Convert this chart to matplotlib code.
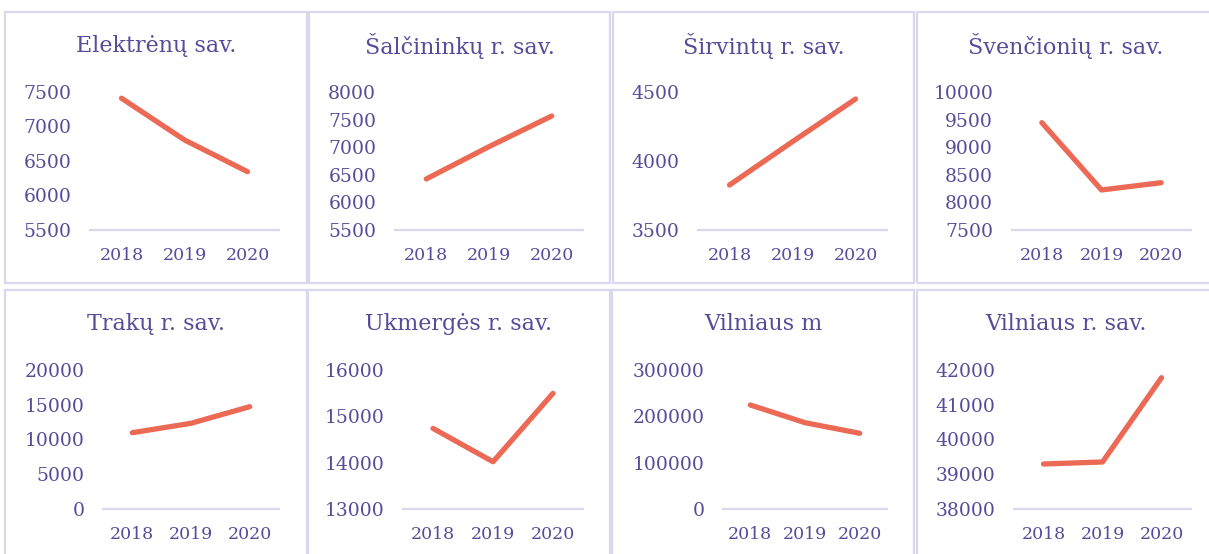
import matplotlib
matplotlib.use("Agg")
import matplotlib.pyplot as plt
from matplotlib.patches import Rectangle

years = ["2018", "2019", "2020"]

titles = ["Elektrėnų sav.", "Šalčininkų r. sav.", "Širvintų r. sav.", "Švenčionių r. sav.",
          "Trakų r. sav.", "Ukmergės r. sav.", "Vilniaus m", "Vilniaus r. sav."]

elektrenai = [7410, 6805, 6345]
salcininkai = [6425, 7010, 7565]
sirvintai = [3826, 4140, 4449]
svencionys = [9445, 8225, 8357]
trakai = [10980, 12330, 14720]
ukmerge = [14740, 14020, 15497]
vilnius_m = [224500, 186300, 163400]
vilnius_r = [39295, 39353, 41778]

series = [elektrenai, salcininkai, sirvintai, svencionys,
          trakai, ukmerge, vilnius_m, vilnius_r]

y_ticks = [
    [5500, 6000, 6500, 7000, 7500],
    [5500, 6000, 6500, 7000, 7500, 8000],
    [3500, 4000, 4500],
    [7500, 8000, 8500, 9000, 9500, 10000],
    [0, 5000, 10000, 15000, 20000],
    [13000, 14000, 15000, 16000],
    [0, 100000, 200000, 300000],
    [38000, 39000, 40000, 41000, 42000],
]

W, H = 1209, 554
TEXT = "#574b9a"
LINE = "#ec6a55"
BORDER = "#dad8ec"

fig = plt.figure(figsize=(W / 100, H / 100), dpi=100)
plt.rcParams['font.family'] = ['DejaVu Serif']

def fx(x):
    return x / W

def fy(y):
    return 1 - y / H

# panel boxes (pixel coordinates: left, right, top, bottom)
panels = [
    (5, 307, 12, 283), (309, 610, 12, 283), (613, 914, 12, 283), (917, 1215, 12, 283),
    (5, 307, 290, 570), (308, 610, 290, 570), (612, 914, 290, 570), (917, 1215, 290, 570),
]
# axes areas (left, right, top, bottom)
axes_px = [
    (90, 279, 92, 230), (395, 583, 92, 230), (698, 887, 92, 230), (1012, 1191, 92, 230),
    (103, 279, 370, 509), (403, 583, 370, 509), (723, 887, 370, 509), (1014, 1191, 370, 509),
]
title_y = [46, 46, 46, 46, 324, 324, 324, 324]

for (l, r, t, b) in panels:
    fig.patches.append(Rectangle((fx(l), fy(b)), fx(r - l), (b - t) / H,
                                 transform=fig.transFigure, fill=False,
                                 edgecolor=BORDER, linewidth=1.6))

for i in range(8):
    l, r, t, b = axes_px[i]
    ax = fig.add_axes([fx(l), fy(b), fx(r - l), (b - t) / H])
    ax.plot(range(3), series[i], color=LINE, linewidth=3.8,
            solid_capstyle='round', solid_joinstyle='round', clip_on=False)
    ax.set_xlim(-0.5, 2.5)
    ax.set_ylim(y_ticks[i][0], y_ticks[i][-1])
    ax.set_xticks(range(3))
    ax.set_xticklabels(years)
    ax.set_yticks(y_ticks[i])
    ax.set_yticklabels([str(v) for v in y_ticks[i]])
    for s in ['top', 'left', 'right']:
        ax.spines[s].set_visible(False)
    ax.spines['bottom'].set_color(BORDER)
    ax.spines['bottom'].set_linewidth(1.6)
    ax.tick_params(axis='both', length=0, colors=TEXT)
    ax.tick_params(axis='y', pad=13.5, labelsize=13.5)
    ax.tick_params(axis='x', pad=12, labelsize=12.5)
    ax.patch.set_visible(False)
    pl, pr, pt, pb = panels[i]
    fig.text(fx((pl + pr) / 2), fy(title_y[i]), titles[i], ha='center', va='center',
             color=TEXT, fontsize=16)

fig.savefig("out.png", dpi=100)
